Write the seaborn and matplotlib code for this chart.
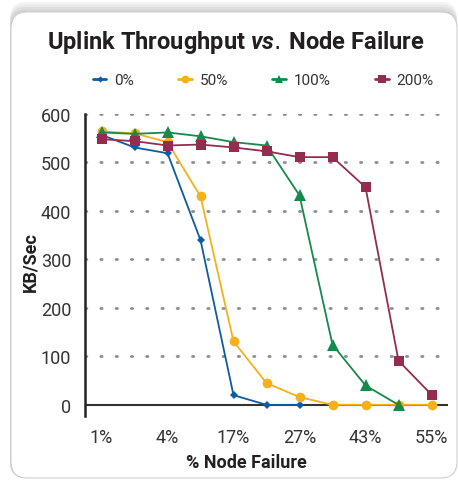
import numpy as np
import pandas as pd
import matplotlib.pyplot as plt
import seaborn as sns
from matplotlib.patches import FancyBboxPatch
from matplotlib.lines import Line2D

# ---------------- data ----------------
# 11 failure steps along x, only every other one is labelled
x_labels = ['1%', '4%', '17%', '27%', '43%', '55%']
loads = ['0%', '50%', '100%', '200%']
tp_0 = [557, 531, 519, 340, 20, 0, 0]
tp_50 = [564, 560, 542, 430, 131, 45, 16, 0, 0, 0, 0]
tp_100 = [562, 559, 562, 554, 542, 535, 432, 124, 40, 0]
tp_200 = [548, 544, 535, 537, 531, 523, 511, 511, 449, 91, 21]

colors = ['#0d5ba0', '#f5b01c', '#158a4b', '#962b50']
markers = ['D', 'o', '^', 's']
msizes = [4, 7, 8, 7]

rows = []
for load, vals in zip(loads, [tp_0, tp_50, tp_100, tp_200]):
    for i, v in enumerate(vals):
        rows.append({'step': i, 'kbs': v, 'load': load})
df = pd.DataFrame(rows)

sns.set_style('white')
plt.rcParams['font.family'] = ['Roboto', 'DejaVu Sans']
plt.rcParams['mathtext.fontset'] = 'custom'
plt.rcParams['mathtext.it'] = 'Roboto:italic:bold'

fig = plt.figure(figsize=(4.58, 4.81), dpi=100)
W, H = 458, 481

# card background with a soft grey shadow along its top
card_x, card_y, card_w, card_h = 11, 2, 446, 466   # pixels, y from bottom
for k, col in enumerate(['#f3f3f3', '#e9e9e9', '#dedede', '#d4d4d4']):
    off = 10 - 2.5 * k
    fig.patches.append(FancyBboxPatch(((card_x - 1) / W, card_y / H),
                                      (card_w + 1) / W, (card_h + off) / H,
                                      boxstyle='round,pad=0,rounding_size=0.035',
                                      transform=fig.transFigure, facecolor=col,
                                      edgecolor='none', zorder=-5 + k * 0.1))
fig.patches.append(FancyBboxPatch((card_x / W, card_y / H), card_w / W, card_h / H,
                                  boxstyle='round,pad=0,rounding_size=0.035',
                                  transform=fig.transFigure, facecolor='white',
                                  edgecolor='#cfcfcf', linewidth=0.8, zorder=-2))

ax = fig.add_axes([85 / W, 1 - 417 / H, (448 - 85) / W, (417 - 115) / H])
ax.set_facecolor('none')

sns.lineplot(data=df, x='step', y='kbs', hue='load', style='load',
             palette=dict(zip(loads, colors)), markers=dict(zip(loads, markers)),
             dashes=False, linewidth=1.3, markeredgewidth=0, ax=ax, legend=False)
for line, ms in zip(ax.lines, msizes):
    line.set_markersize(ms)
    line.set_zorder(3)

ax.set_xlim(-0.5, 10.5)
ax.set_ylim(-23, 600)

# dotted grid
for y in range(100, 601, 100):
    ax.axhline(y, color='#8a8f96', linestyle=(0, (0.5, 5)), linewidth=2,
               dash_capstyle='round', zorder=0)
ax.axhline(0, color='#333333', linewidth=1.5, zorder=1)

ax.set_yticks(range(0, 601, 100))
ax.tick_params(axis='y', direction='out', length=7, width=1.8, color='#222222',
               labelsize=13, labelcolor='#333333', pad=3)

# labels at every other step, tick marks at step boundaries
ax.set_xticks(range(0, 11, 2))
ax.set_xticklabels(x_labels)
ax.tick_params(axis='x', which='major', length=0, labelsize=13,
               labelcolor='#333333', pad=9)
ax.set_xticks(np.arange(0.5, 11, 1), minor=True)
ax.tick_params(axis='x', which='minor', direction='inout', length=11, width=2,
               color='#222222')
ax.set_xlabel('')
ax.set_ylabel('')

for s in ['top', 'right', 'bottom']:
    ax.spines[s].set_visible(False)
ax.spines['left'].set_linewidth(1.8)
ax.spines['left'].set_color('#222222')

fig.text(236 / W, 1 - 42 / H, 'Uplink Throughput $vs.\\,$Node Failure',
         ha='center', va='center', fontsize=17, fontweight='bold', color='#231f20')
fig.text(246 / W, 1 - 463 / H, '% Node Failure', ha='center', va='center',
         fontsize=13, fontweight='bold', color='#231f20')
fig.text(30 / W, 1 - 262 / H, 'KB/Sec', ha='center', va='center', rotation=90,
         fontsize=13, fontweight='bold', color='#231f20')

handles = [Line2D([], [], color=c, marker=m, markersize=ms * 0.8, markeredgewidth=0,
                  linewidth=2) for c, m, ms in zip(colors, markers, msizes)]
fig.legend(handles, loads, ncol=4, loc='center', bbox_to_anchor=(263 / W, 1 - 81 / H),
           frameon=False, fontsize=11, handlelength=0.9, handletextpad=0.5,
           columnspacing=2.9, labelcolor='#333333')

fig.savefig('out.png', dpi=100)
